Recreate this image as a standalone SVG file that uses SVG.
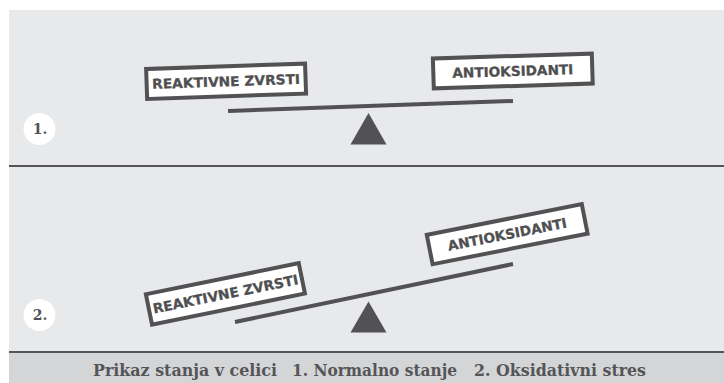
<svg xmlns="http://www.w3.org/2000/svg" width="724" height="383" viewBox="0 0 724 383">
  <style>
    .panel { fill: #e8e9eb; }
    .band { fill: #d4d5d7; }
    .rule { stroke: #555557; stroke-width: 2; }
    .beam { stroke: #525254; stroke-width: 4; stroke-linecap: butt; }
    .fulcrum { fill: #525254; }
    .box { fill: #ffffff; stroke: #525254; stroke-width: 4; }
    .lbl { font-family: "DejaVu Sans", "Liberation Sans", sans-serif; font-weight: bold; font-size: 13.5px; fill: #4f4f51; text-anchor: middle; stroke: #4f4f51; stroke-width: 0.3; }
    .numc { fill: #ffffff; }
    .num { font-family: "DejaVu Serif", "Liberation Serif", serif; font-weight: bold; font-size: 14px; fill: #525254; text-anchor: middle; }
    .cap { font-family: "DejaVu Serif", "Liberation Serif", serif; font-weight: bold; font-size: 16.5px; fill: #555557; }
  </style>
  <rect x="0" y="0" width="724" height="383" fill="#ffffff"/>
  <rect class="panel" x="9" y="10" width="715" height="342"/>
  <rect class="band" x="9" y="352" width="715" height="31"/>
  <line class="rule" x1="9" y1="166" x2="724" y2="166"/>
  <line class="rule" x1="9" y1="352" x2="724" y2="352"/>

  <g id="connectors">
    <line class="beam" x1="228" y1="111" x2="513" y2="101"/>
    <line class="beam" x1="235" y1="322" x2="513" y2="264"/>
  </g>

  <g id="fulcrum1"><polygon class="fulcrum" points="368.5,113 350.5,144.5 386.5,144.5"/></g>
  <g id="fulcrum2"><polygon class="fulcrum" points="368.5,301.5 350.5,332.5 386.5,332.5"/></g>

  <g id="num1">
    <circle class="numc" cx="39.5" cy="129" r="16"/>
    <text class="num" x="40" y="134">1.</text>
  </g>
  <g id="num2">
    <circle class="numc" cx="39.5" cy="315" r="16"/>
    <text class="num" x="40" y="320">2.</text>
  </g>

  <g id="reaktivne1" transform="translate(226.1 81.3) rotate(-1.97)">
    <rect class="box" x="-79.5" y="-15" width="159" height="30"/>
    <text class="lbl" x="0" y="5" textLength="148" lengthAdjust="spacingAndGlyphs">REAKTIVNE ZVRSTI</text>
  </g>
  <g id="antioksidanti1" transform="translate(512.8 71) rotate(-1.76)">
    <rect class="box" x="-79.5" y="-15" width="159" height="30"/>
    <text class="lbl" x="0" y="5" textLength="121" lengthAdjust="spacingAndGlyphs">ANTIOKSIDANTI</text>
  </g>
  <g id="reaktivne2" transform="translate(225.4 293.9) rotate(-11.5)">
    <rect class="box" x="-78" y="-15.5" width="156" height="31"/>
    <text class="lbl" x="0" y="5" textLength="148" lengthAdjust="spacingAndGlyphs">REAKTIVNE ZVRSTI</text>
  </g>
  <g id="antioksidanti2" transform="translate(507.2 234.2) rotate(-11.2)">
    <rect class="box" x="-79" y="-15" width="158" height="30"/>
    <text class="lbl" x="0" y="5" textLength="121" lengthAdjust="spacingAndGlyphs">ANTIOKSIDANTI</text>
  </g>

  <g id="caption">
    <text class="cap" x="93" y="376" textLength="184" lengthAdjust="spacingAndGlyphs">Prikaz stanja v celici</text>
    <text class="cap" x="292" y="376" textLength="165" lengthAdjust="spacingAndGlyphs">1. Normalno stanje</text>
    <text class="cap" x="474" y="376" textLength="172" lengthAdjust="spacingAndGlyphs">2. Oksidativni stres</text>
  </g>
</svg>
